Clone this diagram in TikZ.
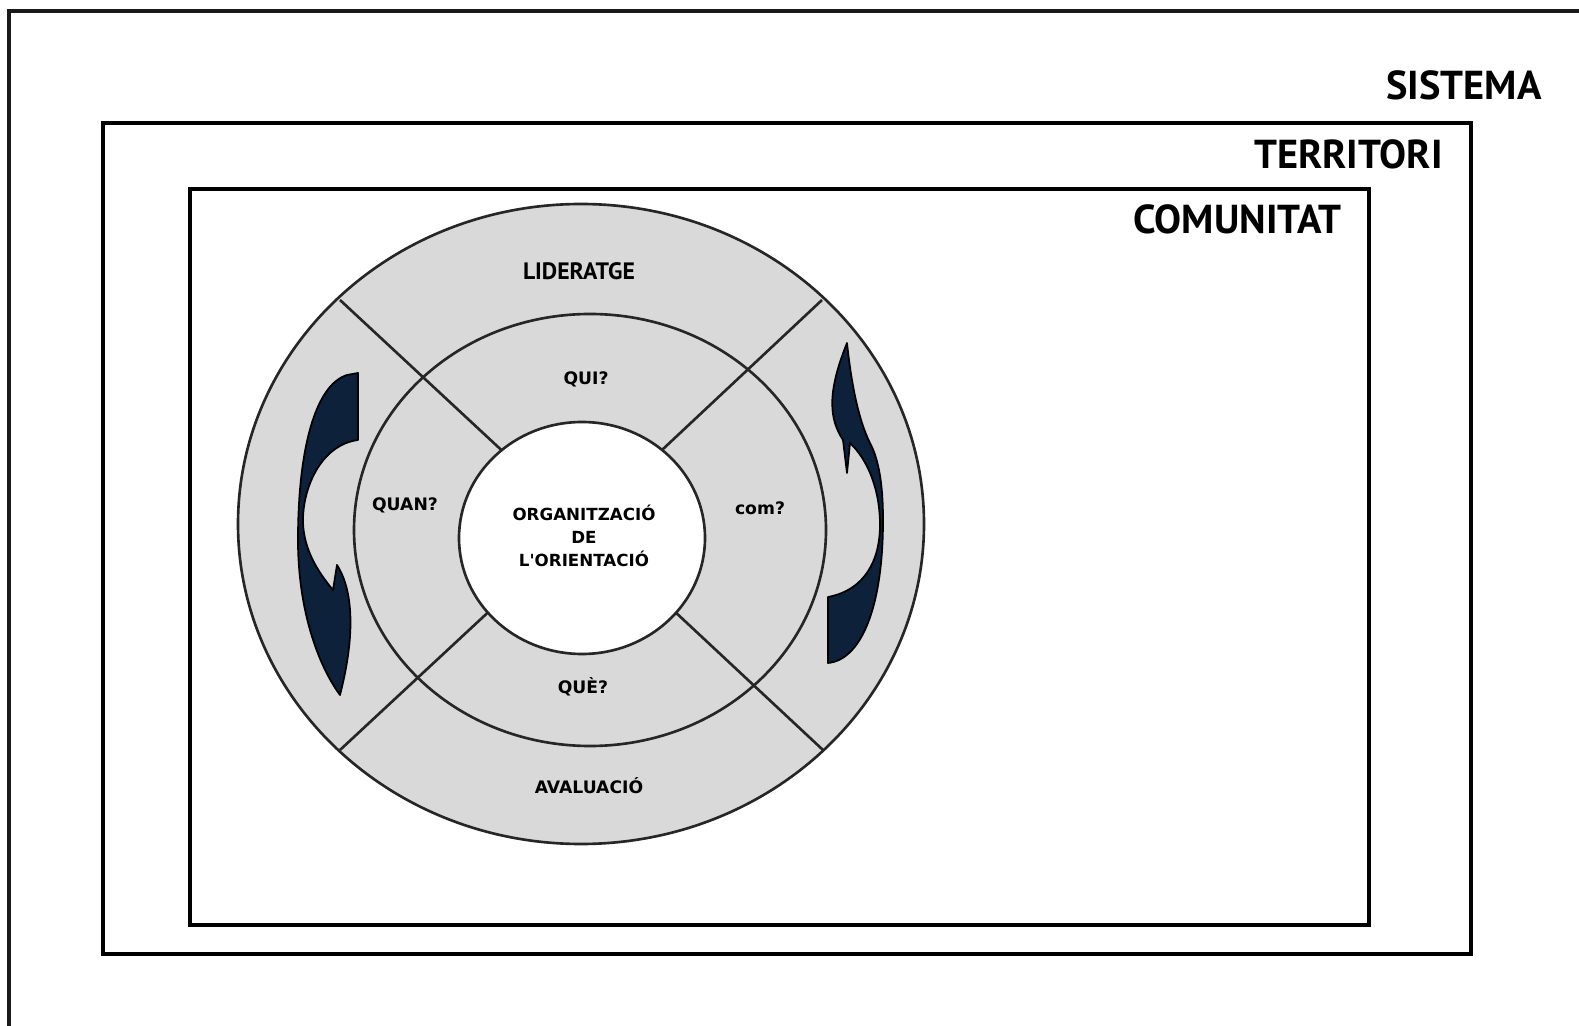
\documentclass[tikz,border=0pt]{standalone}
\usepackage{fontspec}
\setmainfont{PT Sans}
\newfontfamily\ringfont{DejaVu Sans}
\usetikzlibrary{calc}

\definecolor{ringgray}{RGB}{217,217,217}
\definecolor{arrownavy}{RGB}{14,33,58}
\definecolor{framegray}{RGB}{26,26,26}

\begin{document}
\begin{tikzpicture}[x=0.02cm, y=-0.02cm,
  frame/.style={line width=2.3pt, black},
  ring/.style={line width=1.5pt, draw=black!85},
  head/.style={font=\bfseries\fontsize{23}{25}\selectfont, inner sep=0},
  lbl/.style={font=\ringfont\bfseries\fontsize{9.8}{13}\selectfont, inner sep=0, align=center},
  swirl/.style={fill=arrownavy, draw=black, line width=1pt, line join=round}]
\useasboundingbox (0,0) rectangle (1579,1026);
\fill[white] (0,0) rectangle (1579,1026);
% nested frames
\draw[line width=2pt, framegray] (9,1040) -- (9,11) -- (1590,11);
\draw[frame] (103,123) rectangle (1471,954);
\draw[frame] (190,189) rectangle (1369,925);
\node[head, anchor=east] (sistema) at (1542,85) {SISTEMA};
\node[head, anchor=east] (territori) at (1443,154) {TERRITORI};
\node[head, anchor=east] (comunitat) at (1342,219) {COMUNITAT};
% rings
\coordinate (C) at (582,525);
\filldraw[ring, fill=ringgray] (581,524) ellipse [x radius=343, y radius=320];
\draw[ring] (590,530) ellipse [x radius=236, y radius=216];
\foreach \p in {(340,300), (822,300), (340,750), (823,750)} {
 \draw[ring] \p -- (C);
}
\filldraw[ring, fill=white] (582,538) ellipse [x radius=123, y radius=116];
% arrows
\filldraw[swirl] (347,375) -- (358,373) -- (358,440)
 .. controls (320,445) and (302,490) .. (303,523)
 .. controls (304,550) and (318,572) .. (333,590)
 -- (337,565)
 .. controls (350,585) and (358,625) .. (340,695)
 .. controls (318,665) and (298,610) .. (298,540)
 .. controls (298,450) and (315,385) .. cycle;
\filldraw[swirl] (847,343)
 .. controls (852,390) and (860,425) .. (872,447)
 .. controls (880,465) and (883,490) .. (883,520)
 .. controls (883,610) and (860,660) .. (828,663)
 -- (828,597)
 .. controls (865,590) and (880,560) .. (880,525)
 .. controls (880,490) and (868,460) .. (850,443)
 -- (847,473) -- (843,440)
 .. controls (830,420) and (826,395) .. cycle;
% labels
\node[inner sep=0, font=\bfseries\fontsize{13.5}{15}\selectfont] (lideratge) at (579,271) {LIDERATGE};
\node[lbl] (qui) at (586,379) {QUI?};
\node[lbl] (quan) at (405,505) {QUAN?};
\node[lbl] (com) at (760,508) {com?};
\node[lbl] (que) at (583,687) {QUÈ?};
\node[lbl] (avaluacio) at (589,786) {AVALUACIÓ};
\node[lbl, font=\ringfont\bfseries\fontsize{9.5}{13.2}\selectfont] (orientacio) at (584,536) {ORGANITZACIÓ\\DE\\L'ORIENTACIÓ};
\end{tikzpicture}
\end{document}
